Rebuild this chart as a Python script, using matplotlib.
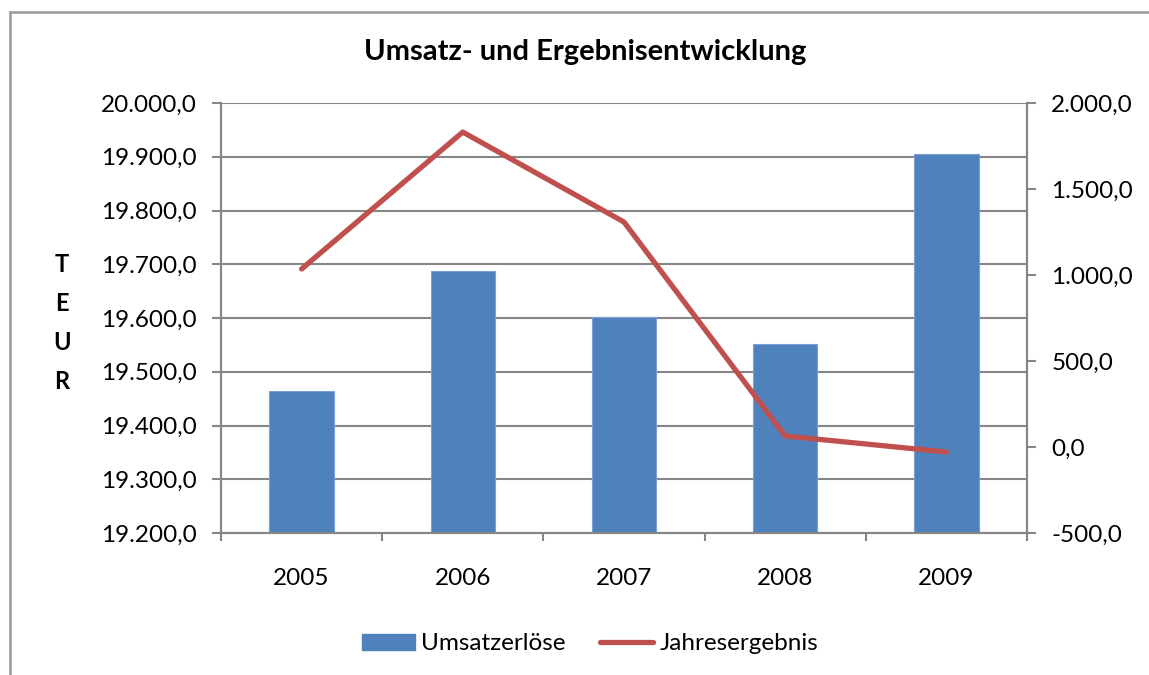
import matplotlib.pyplot as plt
import numpy as np
from matplotlib.ticker import FuncFormatter, FixedLocator
from matplotlib.lines import Line2D

plt.rcParams['font.family'] = ['Lato', 'DejaVu Sans']

# Daten
jahre = ['2005', '2006', '2007', '2008', '2009']
umsatz = [19464, 19688, 19602, 19552, 19906]
ergebnis = [1035, 1831, 1308, 64, -29]

blau = '#4F81BD'
rot = '#C0504D'
grau = '#868686'


def de_format(val, pos=None):
    s = f'{val:,.1f}'
    return s.replace(',', 'X').replace('.', ',').replace('X', '.')


fig = plt.figure(figsize=(11.49, 6.75), dpi=100)
ax = fig.add_axes([221 / 1149, 1 - 533 / 675, 806 / 1149, 430 / 675])
ax2 = ax.twinx()

x = np.arange(len(jahre))
ax.bar(x, umsatz, width=0.4, color=blau, edgecolor='#7A9FD0', linewidth=0.8, zorder=2)
ax.set_ylim(19200, 20000)
ax.set_xlim(-0.5, len(jahre) - 0.5)
ax.yaxis.set_major_locator(FixedLocator(np.arange(19200, 20001, 100)))
ax.yaxis.set_major_formatter(FuncFormatter(de_format))
ax.grid(axis='y', color=grau, linewidth=1.5, zorder=0)
ax.set_axisbelow(True)

# x-Achse: Kategorien, Striche an den Grenzen
ax.set_xticks(x)
ax.set_xticklabels(jahre)
ax.xaxis.set_minor_locator(FixedLocator(np.arange(-0.5, len(jahre), 1)))
ax.tick_params(axis='x', which='major', length=0, pad=25, labelsize=17.5)
ax.tick_params(axis='x', which='minor', length=6, width=1.5, color=grau)
ax.tick_params(axis='y', length=6.5, width=1.5, color=grau, labelsize=17.5, pad=11)

ax2.plot(x, ergebnis, color=rot, linewidth=3.8, solid_capstyle='round',
         solid_joinstyle='round', zorder=3)
ax2.set_ylim(-500, 2000)
ax2.yaxis.set_major_locator(FixedLocator(np.arange(-500, 2001, 500)))
ax2.yaxis.set_major_formatter(FuncFormatter(de_format))
ax2.tick_params(axis='y', length=6.5, width=1.5, color=grau, labelsize=17.5, pad=11)

for a in (ax, ax2):
    a.spines['top'].set_visible(False)
    for side in ['left', 'right', 'bottom']:
        a.spines[side].set_color(grau)
        a.spines[side].set_linewidth(1.5)

fig.text(585 / 1149, 1 - 52 / 675, 'Umsatz- und Ergebnisentwicklung',
         ha='center', va='center', fontsize=21, fontweight='bold')
fig.text(62 / 1149, 1 - 323 / 675, 'T\nE\nU\nR', ha='center', va='center',
         fontsize=17, fontweight='bold', linespacing=1.85)

handles = [plt.Rectangle((0, 0), 1, 1, color=blau),
           Line2D([0], [0], color=rot, linewidth=3.8, solid_capstyle='round')]
fig.legend(handles, ['Umsatzerlöse', 'Jahresergebnis'], loc='center',
           bbox_to_anchor=(590 / 1149, 1 - 644 / 675), ncol=2, frameon=False,
           fontsize=17.5, handlelength=2.2, handleheight=0.6, handletextpad=0.25,
           columnspacing=1.4)

# Rahmen des Diagramms
fig.add_artist(Line2D([10 / 1149, 10 / 1149], [0, 1 - 12 / 675], color='#9a9a9a',
                      linewidth=1.8, transform=fig.transFigure))
fig.add_artist(Line2D([10 / 1149, 1], [1 - 12 / 675, 1 - 12 / 675], color='#9a9a9a',
                      linewidth=1.8, transform=fig.transFigure))

fig.savefig('out.png', dpi=100)
